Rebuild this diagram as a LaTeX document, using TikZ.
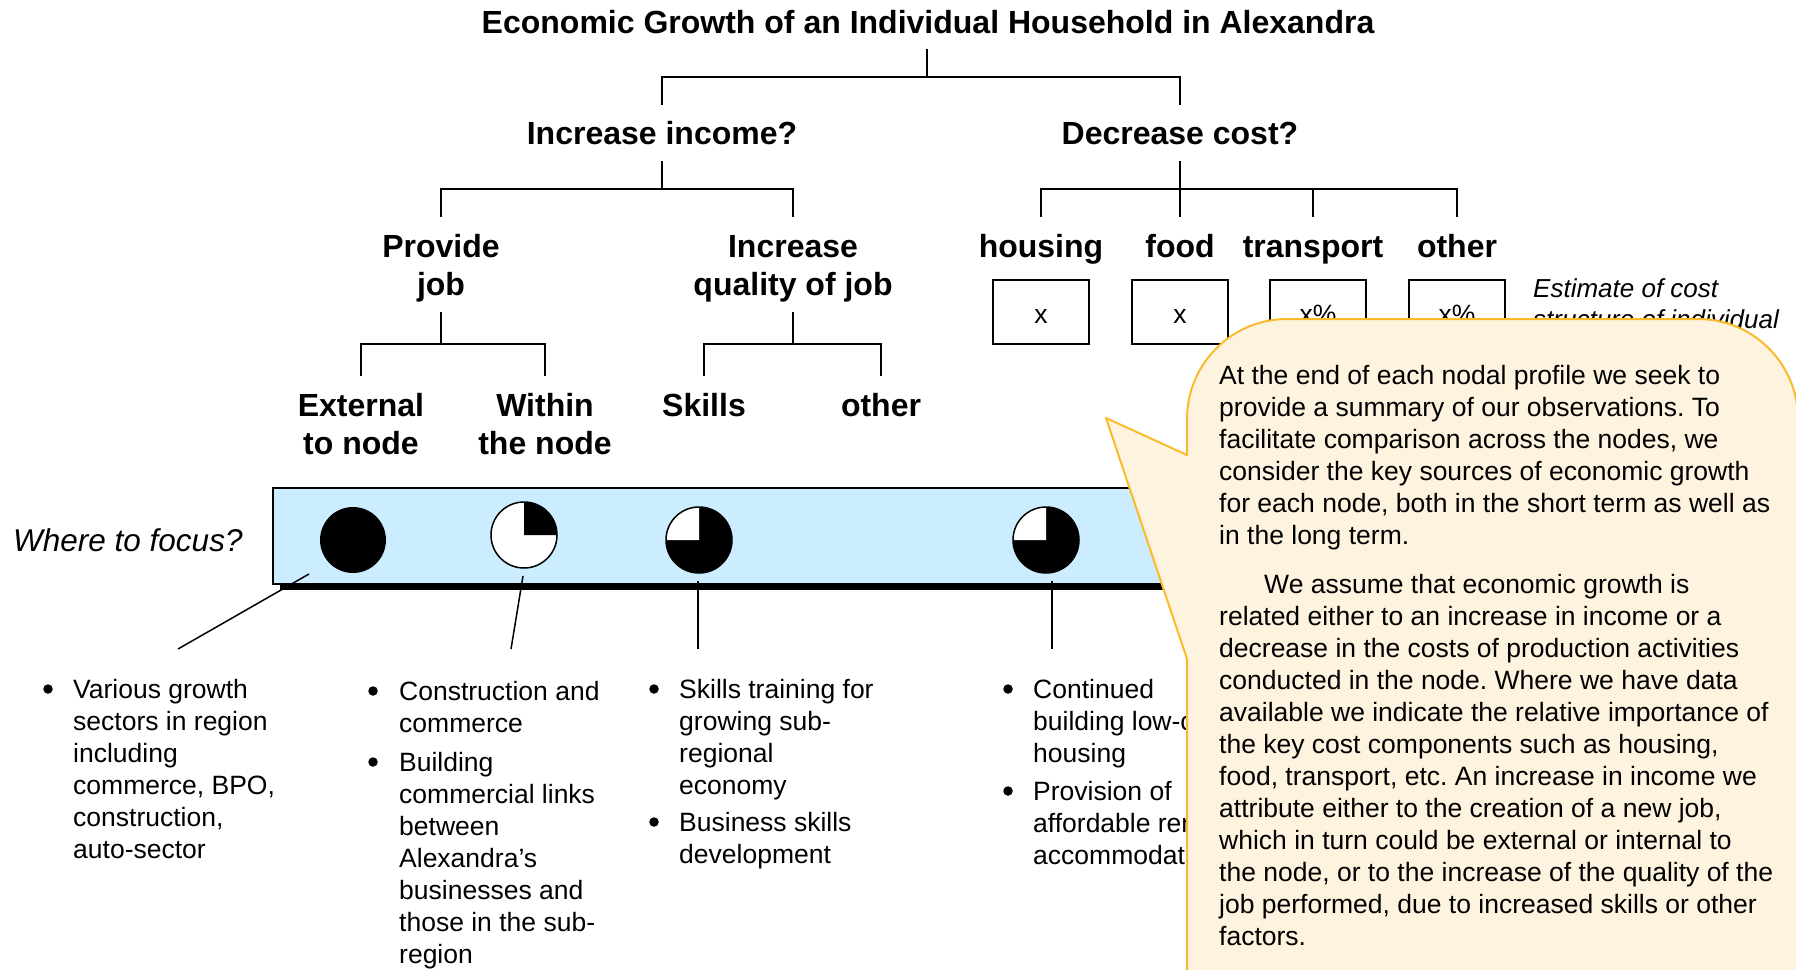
\documentclass[tikz,border=0pt]{standalone}
\usepackage{fontspec}
\setmainfont{Liberation Sans}
\definecolor{barblue}{RGB}{204,236,255}
\definecolor{callfill}{RGB}{253,243,222}
\definecolor{callline}{RGB}{249,187,44}
\frenchspacing
\begin{document}
\begin{tikzpicture}[x=1pt,y=-1pt,
  tree/.style={line width=2pt},
  lab/.style={anchor=base, inner sep=0, font=\fontsize{32}{38}\selectfont\bfseries},
  costbox/.style={draw, line width=2pt, minimum width=96pt, minimum height=64pt, inner sep=0},
  bt/.style={anchor=base west, inner sep=0, font=\fontsize{26.5}{32}\selectfont},
  bul/.style={circle, fill=black, inner sep=0, minimum size=9.5pt},
  boxtxt/.style={anchor=base, inner sep=0, font=\fontsize{26.5}{32}\selectfont},
  pienode/.style={circle, minimum size=66pt, inner sep=0, outer sep=0},
  pieline/.style={line width=1.5pt},
  ptr/.style={line width=1.5pt},
  callout/.style={draw=callline, fill=callfill, line width=2pt, line join=round},
  ctext/.style={anchor=base west, inner sep=0, font=\fontsize{26.5}{32}\selectfont},
]
\useasboundingbox (0,0) rectangle (1796,969);
\clip (0,0) rectangle (1796,969);

% ---------- tree labels ----------
\node[lab] (title) at (928,33) {Economic Growth of an Individual Household in Alexandra};
\node[lab] (inc) at (662,144) {Increase income?};
\node[lab] (dec) at (1180,144) {Decrease cost?};
\node[lab] (job) at (441,257) {\parbox[t]{300pt}{\centering Provide\\job}};
\node[lab] (qual) at (793,257) {\parbox[t]{400pt}{\centering Increase\\quality of job}};
\node[lab] (hous) at (1041,257) {housing};
\node[lab] (food) at (1180,257) {food};
\node[lab] (trans) at (1313,257) {transport};
\node[lab] (oth) at (1457,257) {other};
\node[lab] (ext) at (361,416) {\parbox[t]{300pt}{\centering External\\to node}};
\node[lab] (within) at (545,416) {\parbox[t]{300pt}{\centering Within\\the node}};
\node[lab] (skills) at (704,416) {Skills};
\node[lab] (qoth) at (881,416) {other};

% ---------- tree connectors ----------
\coordinate (r0) at (927,49);   \coordinate (r1) at (927,77);
\coordinate (i0) at (662,105);  \coordinate (d0) at (1180,105);
\draw[tree] (r0) -- (r1);
\draw[tree] (i0) -- (i0 |- r1) -- (d0 |- r1) -- (d0);

\coordinate (i1) at (662,161);  \coordinate (i2) at (662,189);
\coordinate (j0) at (441,217);  \coordinate (q0) at (793,217);
\draw[tree] (i1) -- (i2);
\draw[tree] (j0) -- (j0 |- i2) -- (q0 |- i2) -- (q0);

\coordinate (d1) at (1180,161); \coordinate (d2) at (1180,189);
\coordinate (h0) at (1041,217); \coordinate (f0) at (1180,217);
\coordinate (t0) at (1313,217); \coordinate (o0) at (1457,217);
\draw[tree] (d1) -- (d2);
\draw[tree] (h0) -- (h0 |- d2) -- (o0 |- d2) -- (o0);
\draw[tree] (f0 |- d2) -- (f0);
\draw[tree] (t0 |- d2) -- (t0);

\coordinate (j1) at (441,312);  \coordinate (j2) at (441,344);
\coordinate (e0) at (361,376);  \coordinate (w0) at (545,376);
\draw[tree] (j1) -- (j2);
\draw[tree] (e0) -- (e0 |- j2) -- (w0 |- j2) -- (w0);

\coordinate (q1) at (793,312);  \coordinate (q2) at (793,344);
\coordinate (s0) at (704,376);  \coordinate (x0) at (881,376);
\draw[tree] (q1) -- (q2);
\draw[tree] (s0) -- (s0 |- q2) -- (x0 |- q2) -- (x0);

% ---------- cost boxes ----------
\node[costbox] (b1) at (1041,312) {};
\node[costbox] (b2) at (1180,312) {};
\node[costbox] (b3) at (1318,312) {};
\node[costbox] (b4) at (1457,312) {};
\node[boxtxt] (bx1) at (1041,323) {x};
\node[boxtxt] (bx2) at (1180,323) {x};
\node[boxtxt] (bx3) at (1318,323) {x\%};
\node[boxtxt] (bx4) at (1457,323) {x\%};
\node[anchor=base west, inner sep=0, font=\fontsize{26}{31}\selectfont\itshape] (est) at (1533,297)
  {\parbox[t]{300pt}{\raggedright Estimate of cost\\structure of individual\\household}};

% ---------- focus bar ----------
\node[anchor=base west, inner sep=0, font=\fontsize{31.5}{38}\selectfont\itshape] (focus) at (13,551) {Where to focus?};
\fill[black] (280,494) rectangle (1567,590);
\draw[line width=1.5pt, fill=barblue] (273,488) rectangle (1560,584);

\node[pienode, fill=black] (c1) at (353,540) {};
\node[pienode, fill=white] (c2) at (524,535) {};
\fill[black] (c2.center) -- ++(0pt,33pt) arc[start angle=90, end angle=0, radius=33pt] -- cycle;
\draw[pieline] (c2.center) circle[radius=33pt];
\node[pienode, fill=black] (c3) at (699,540) {};
\fill[white] (c3.center) -- ++(0pt,33pt) arc[start angle=90, end angle=180, radius=33pt] -- cycle;
\draw[pieline] (c3.center) circle[radius=33pt];
\node[pienode, fill=black] (c4) at (1046,540) {};
\fill[white] (c4.center) -- ++(0pt,33pt) arc[start angle=90, end angle=180, radius=33pt] -- cycle;
\draw[pieline] (c4.center) circle[radius=33pt];

% ---------- pointer lines ----------
\coordinate (p1a) at (309,574);  \coordinate (p1b) at (178,649);
\coordinate (p2a) at (523,576);  \coordinate (p2b) at (511,649);
\coordinate (p3a) at (698,581);  \coordinate (p3b) at (698,649);
\coordinate (p4a) at (1052,581); \coordinate (p4b) at (1052,649);
\draw[ptr] (p1a) -- (p1b);
\draw[ptr] (p2a) -- (p2b);
\draw[ptr] (p3a) -- (p3b);
\draw[ptr] (p4a) -- (p4b);

% ---------- bullet lists ----------
\node[bul] (k1) at (48,689) {};
\node[bt] (t1) at (73,698) {\parbox[t]{300pt}{\raggedright Various growth\\sectors in region\\including\\commerce, BPO,\\construction,\\auto-sector}};

\node[bul] (k2) at (373,691) {};
\node[bt] (t2) at (399,700) {\parbox[t]{300pt}{\raggedright Construction and\\commerce}};
\node[bul] (k3) at (373,762) {};
\node[bt] (t3) at (399,771) {\parbox[t]{300pt}{\raggedright Building\\commercial links\\between\\Alexandra’s\\businesses and\\those in the sub-\\region}};

\node[bul] (k4) at (654,689) {};
\node[bt] (t4) at (679,698) {\parbox[t]{300pt}{\raggedright Skills training for\\growing sub-\\regional\\economy}};
\node[bul] (k5) at (654,822) {};
\node[bt] (t5) at (679,831) {\parbox[t]{300pt}{\raggedright Business skills\\development}};

\node[bul] (k6) at (1008,689) {};
\node[bt] (t6) at (1033,698) {\parbox[t]{300pt}{\raggedright Continued\\building low-cost\\housing}};
\node[bul] (k7) at (1008,791) {};
\node[bt] (t7) at (1033,800) {\parbox[t]{300pt}{\raggedright Provision of\\affordable rental\\accommodation}};

% ---------- callout ----------
\draw[callout] (1187,1100) -- (1187,659) -- (1106,418) -- (1187,455) -- (1187,419)
  arc[start angle=180, end angle=90, radius=100pt] -- (1698,319)
  arc[start angle=90, end angle=0, radius=100pt] -- (1798,1100) -- cycle;

\node[ctext] (cp1) at (1219,384) {\parbox[t]{600pt}{\raggedright
At the end of each nodal profile we seek to\\
provide a summary of our observations. To\\
facilitate comparison across the nodes, we\\
consider the key sources of economic growth\\
for each node, both in the short term as well as\\
in the long term.}};
\node[ctext] (cp2) at (1219,593) {\parbox[t]{600pt}{\raggedright
\hspace*{45pt}We assume that economic growth is\\
related either to an increase in income or a\\
decrease in the costs of production activities\\
conducted in the node. Where we have data\\
available we indicate the relative importance of\\
the key cost components such as housing,\\
food, transport, etc. An increase in income we\\
attribute either to the creation of a new job,\\
which in turn could be external or internal to\\
the node, or to the increase of the quality of the\\
job performed, due to increased skills or other\\
factors.}};
\end{tikzpicture}
\end{document}
